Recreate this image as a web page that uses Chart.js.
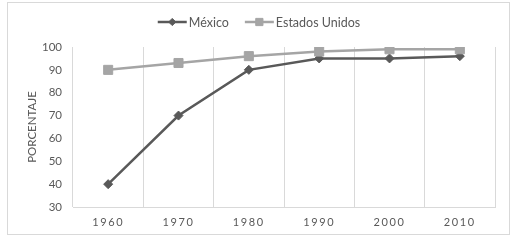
<!DOCTYPE html>
<html>
<head>
<meta charset="utf-8">
<script src="https://cdn.jsdelivr.net/npm/chart.js@4.4.0/dist/chart.umd.min.js"></script>
<style>
  html, body { margin: 0; padding: 0; background: #fff; }
  canvas { display: block; }
</style>
</head>
<body>
<canvas id="chart" width="516" height="243"></canvas>
<script>
// data
const years = ['1960', '1970', '1980', '1990', '2000', '2010'];
const mexico = [40, 70, 90, 95, 95, 96];
const usa = [90, 93, 96, 98, 99, 99];
const yTicks = [30, 40, 50, 60, 70, 80, 90, 100];

const FONT = 'Lato, "Open Sans", sans-serif';
const TEXT = '#595959';
const GRID = '#d9d9d9';

// frame + white background
const framePlugin = {
  id: 'frame',
  beforeDraw(chart) {
    const ctx = chart.ctx;
    ctx.save();
    ctx.fillStyle = '#fff';
    ctx.fillRect(0, 0, chart.width, chart.height);
    ctx.strokeStyle = GRID;
    ctx.lineWidth = 1;
    ctx.strokeRect(7.5, 2.5, 502, 232);
    ctx.restore();
  },
  // x tick labels are spaced out in the original
  afterDatasetsDraw(chart) {
    chart.ctx.letterSpacing = '1.6px';
  },
  afterDraw(chart) {
    const ctx = chart.ctx;
    ctx.letterSpacing = '0px';

    // excel style legend: line with marker, then label
    const sets = chart.data.datasets;
    const lineLen = 29, gapText = 2, gapItem = 16, y = 22;
    ctx.save();
    ctx.font = '12.5px ' + FONT;
    const widths = sets.map(d => ctx.measureText(d.label).width);
    let total = 0;
    widths.forEach((w, i) => { total += lineLen + gapText + w + (i ? gapItem : 0); });
    let x = 259 - total / 2;
    sets.forEach((d, i) => {
      ctx.strokeStyle = d.borderColor;
      ctx.fillStyle = d.backgroundColor;
      ctx.lineWidth = d.borderWidth;
      ctx.beginPath();
      ctx.moveTo(x, y);
      ctx.lineTo(x + lineLen, y);
      ctx.stroke();
      ctx.lineWidth = 1;
      Chart.helpers.drawPoint(ctx, {
        pointStyle: d.pointStyle, radius: d.pointRadius * 0.8, rotation: 0, borderWidth: 1
      }, x + lineLen / 2, y);
      ctx.fillStyle = TEXT;
      ctx.textBaseline = 'middle';
      ctx.textAlign = 'left';
      ctx.fillText(d.label, x + lineLen + gapText, y + 0.5);
      x += lineLen + gapText + widths[i] + gapItem;
    });
    ctx.restore();
  }
};

new Chart(document.getElementById('chart'), {
  type: 'line',
  data: {
    labels: years,
    datasets: [
      {
        label: 'México',
        data: mexico,
        borderColor: '#595959',
        backgroundColor: '#595959',
        borderWidth: 2.5,
        pointStyle: 'rectRot',
        pointRadius: 4.5,
        pointBorderWidth: 1,
        tension: 0,
        order: 1
      },
      {
        label: 'Estados Unidos',
        data: usa,
        borderColor: '#a5a5a5',
        backgroundColor: '#a5a5a5',
        borderWidth: 2.5,
        pointStyle: 'rect',
        pointRadius: 6.4,
        pointBorderWidth: 1,
        tension: 0,
        order: 0
      }
    ]
  },
  options: {
    responsive: false,
    animation: false,
    layout: { padding: { top: 47, right: 21, bottom: 0, left: 0 } },
    plugins: { legend: { display: false }, tooltip: { enabled: false } },
    scales: {
      x: {
        offset: true,
        grid: { offset: true, color: GRID, lineWidth: 1, drawTicks: false },
        border: { color: GRID, width: 1 },
        ticks: { color: TEXT, font: { family: FONT, size: 11 }, padding: 9, z: 1, maxRotation: 0 },
        afterFit(scale) { scale.height = 36; }
      },
      y: {
        min: 30,
        max: 100,
        grid: { display: false, drawTicks: false },
        border: { display: false },
        afterBuildTicks(scale) { scale.ticks = yTicks.map(v => ({ value: v })); },
        ticks: { color: TEXT, font: { family: FONT, size: 11.5 }, padding: 11 },
        title: {
          display: true,
          text: 'PORCENTAJE',
          color: TEXT,
          font: { family: FONT, size: 11.5 },
          padding: { top: 25, bottom: 0 }
        },
        afterFit(scale) { scale.width = 73; }
      }
    }
  },
  plugins: [framePlugin]
});
</script>
</body>
</html>
